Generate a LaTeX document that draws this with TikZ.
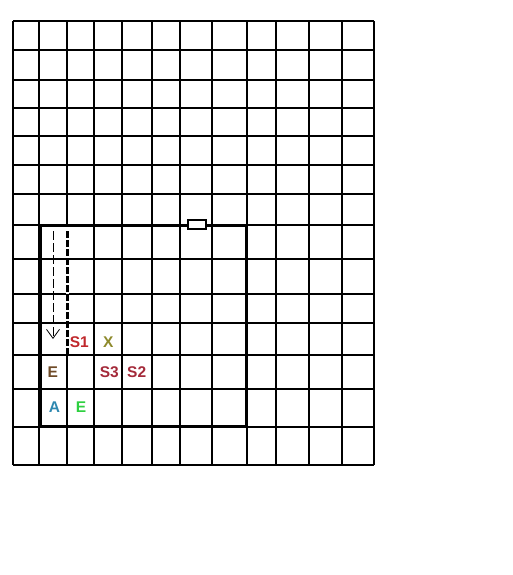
\documentclass[tikz,border=0pt]{standalone}
\usepackage{fontspec}
\setmainfont{Liberation Sans}
\usetikzlibrary{arrows.meta}
\definecolor{cSone}{HTML}{C0282C}
\definecolor{cX}{HTML}{8E8A2C}
\definecolor{cEbrown}{HTML}{6E4A26}
\definecolor{cSdark}{HTML}{A42A3A}
\definecolor{cA}{HTML}{2E88B0}
\definecolor{cEgreen}{HTML}{2ED040}
\tikzset{
  gridline/.style={line width=1.1pt, black},
  wall/.style={line width=3pt, black, line join=miter},
  lbl/.style={font=\fontsize{15.5}{16}\selectfont\bfseries, inner sep=0pt, anchor=center}
}
\begin{document}
\begin{tikzpicture}[x=1pt,y=-1pt]
\useasboundingbox (0,0) rectangle (512,575);
\fill[white] (0,0) rectangle (512,575);
% grid
\foreach \xx in {13,39,94,122,152,180,212,247,276,309,342,374}
  \draw[gridline] (\xx,21) -- (\xx,465);
\draw[gridline] (67,21) -- (67,225);
\draw[gridline] (67,355) -- (67,465);
\foreach \yy in {21,50,80,108,136,165,194,225,259,294,323,355,389,427,465}
  \draw[gridline] (13,\yy) -- (374,\yy);
% thick room outline
\draw[wall] (40,225) rectangle (246,426);
% small rectangle on top wall
\draw[line width=1.5pt, fill=white] (188,220) rectangle (206,229);
% thick dashed line
\fill[white] (65.5,226.5) rectangle (68.5,354.5);
\draw[line width=3pt, dash pattern=on 7pt off 2pt] (67,231) -- (67,356);
% thin dashed arrow
\coordinate (as) at (53,231);
\coordinate (ae) at (53,339);
\draw[line width=1pt, dash pattern=on 9pt off 3pt, -{Straight Barb[length=9pt,width=13pt,line width=0.8pt]}] (as) -- (ae);
% labels
\node[lbl, text=cSone] (s1) at (79.3,342) {S1};
\node[lbl, text=cX] (x) at (108.3,342) {X};
\node[lbl, text=cEbrown] (e1) at (52.7,372.5) {E};
\node[lbl, text=cSdark] (s3) at (109.3,372.5) {S3};
\node[lbl, text=cSdark] (s2) at (136.7,372.5) {S2};
\node[lbl, text=cA] (a) at (54.5,407.3) {A};
\node[lbl, text=cEgreen] (e2) at (81,407.3) {E};
\end{tikzpicture}
\end{document}
